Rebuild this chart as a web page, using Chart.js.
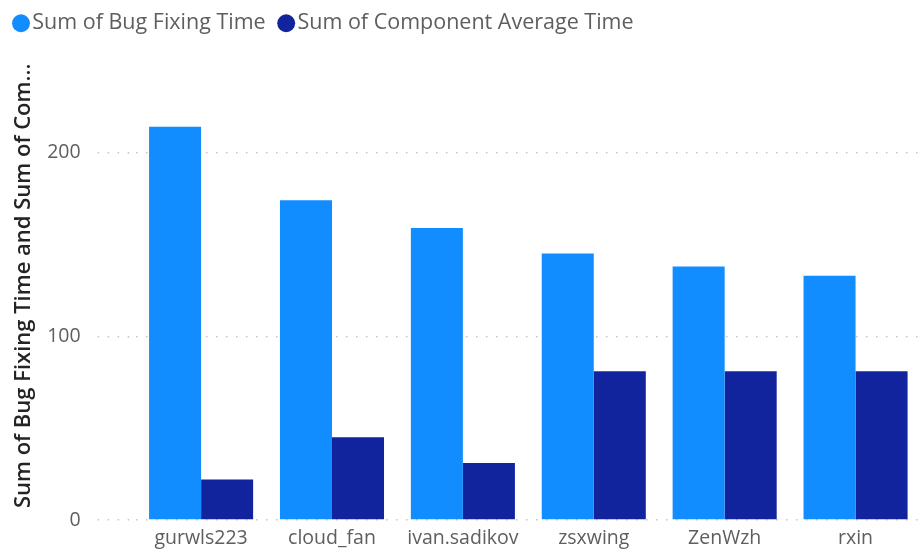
<!DOCTYPE html>
<html>
<head>
<meta charset="utf-8">
<script src="https://cdn.jsdelivr.net/npm/chart.js@4.4.1/dist/chart.umd.min.js"></script>
<style>
  html, body { margin: 0; padding: 0; background: #ffffff; }
  #wrap { width: 923px; height: 553px; position: relative; }
</style>
</head>
<body>
<div id="wrap"><canvas id="chart"></canvas></div>
<script>
// Developers and their summed times
const developers = ["gurwls223", "cloud_fan", "ivan.sadikov", "zsxwing", "ZenWzh", "rxin"];
const bugFixingTime = [214, 174, 159, 145, 138, 133];
const componentAverageTime = [22, 45, 31, 81, 81, 81];
const yTickValues = [0, 100, 200];

const FONT = "'Open Sans', 'Noto Sans', sans-serif";

// Lift the legend row a little closer to the top edge once layout is done
const legendNudge = {
  id: "legendNudge",
  afterLayout(chart) {
    const lg = chart.legend;
    if (lg) { lg.top -= 7.5; lg.bottom -= 7.5; }
  }
};

new Chart(document.getElementById("chart"), {
  type: "bar",
  data: {
    labels: developers,
    datasets: [
      {
        label: "Sum of Bug Fixing Time",
        data: bugFixingTime,
        backgroundColor: "#118DFF",
        borderWidth: 0,
        barPercentage: 1.0,
        categoryPercentage: 0.795
      },
      {
        label: "Sum of Component Average Time",
        data: componentAverageTime,
        backgroundColor: "#12239E",
        borderWidth: 0,
        barPercentage: 1.0,
        categoryPercentage: 0.795
      }
    ]
  },
  plugins: [legendNudge],
  options: {
    responsive: true,
    maintainAspectRatio: false,
    animation: false,
    devicePixelRatio: 1,
    layout: { padding: { left: 0.5, right: 2, top: 0, bottom: -4.4 } },
    plugins: {
      tooltip: { enabled: false },
      legend: {
        position: "top",
        align: "start",
        labels: {
          usePointStyle: true,
          pointStyle: "circle",
          boxWidth: 1,
          boxHeight: 12.7,
          padding: 20,
          color: "#605E5C",
          font: { family: FONT, size: 21.5 }
        }
      }
    },
    scales: {
      x: {
        grid: { display: false, drawTicks: false },
        border: { display: false },
        ticks: {
          color: "#605E5C",
          padding: 7,
          font: { family: FONT, size: 19.5 },
          maxRotation: 0,
          autoSkip: false
        }
      },
      y: {
        min: 0,
        max: 255,
        afterBuildTicks: (scale) => {
          scale.ticks = yTickValues.map(v => ({ value: v }));
        },
        afterFit: (scale) => {
          // keep the plot top clear of the legend
          scale.paddingTop = 50;
        },
        grid: {
          color: "#C8C6C4",
          lineWidth: 1.5,
          tickBorderDash: [1.5, 8.5],
          tickLength: 38,
          drawTicks: true
        },
        border: { display: false, dash: [1.5, 8.5] },
        ticks: {
          color: "#605E5C",
          padding: 17,
          font: { family: FONT, size: 19.5 }
        },
        title: {
          display: true,
          text: "Sum of Bug Fixing Time and Sum of Com...",
          color: "#252423",
          padding: { top: 10.3, bottom: -7 },
          font: { family: FONT, size: 22, weight: "600" }
        }
      }
    }
  }
});
</script>
</body>
</html>
